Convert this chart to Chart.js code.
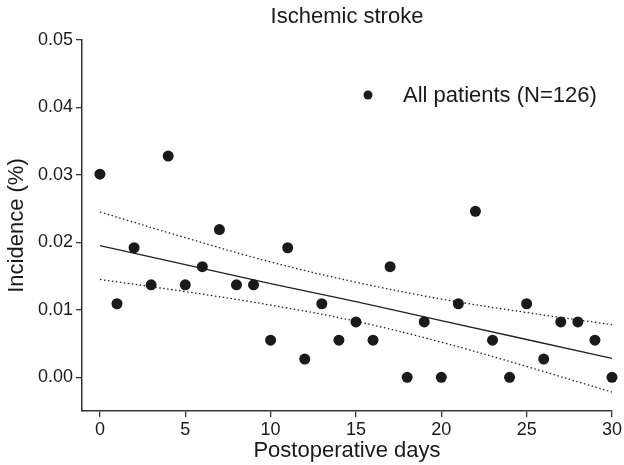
<!DOCTYPE html>
<html>
<head>
<meta charset="utf-8">
<script src="https://cdn.jsdelivr.net/npm/chart.js@4"></script>
<style>
  html, body { margin: 0; padding: 0; background: #fff; }
  #wrap { width: 624px; height: 465px; }
</style>
</head>
<body>
<div id="wrap"><canvas id="chart" width="624" height="465"></canvas></div>
<script>
// données
const days = [0,1,2,3,4,5,6,7,8,9,10,11,12,13,14,15,16,17,18,19,20,21,22,23,24,25,26,27,28,29,30];
const incidence = [0.0301,0.0109,0.0192,0.0137,0.0328,0.0137,0.0164,0.0219,0.0137,0.0137,
    0.0055,0.0192,0.0027,0.0109,0.0055,0.0082,0.0055,0.0164,0,0.0082,
    0,0.0109,0.0246,0.0055,0,0.0109,0.0027,0.0082,0.0082,0.0055,0];

const fitDays = [0, 5, 10, 15, 20, 25, 30];
const fitLine = [0.0195, 0.0167, 0.0139, 0.0112, 0.0084, 0.0056, 0.0028];
const upperBand = [0.0245, 0.0207, 0.0171, 0.0141, 0.0116, 0.0096, 0.0078];
const lowerBand = [0.0145, 0.0127, 0.0107, 0.0083, 0.0052, 0.0016, -0.0022];

const xTicks = [0, 5, 10, 15, 20, 25, 30];
const yTicks = [0, 0.01, 0.02, 0.03, 0.04, 0.05];

const legendLabel = 'All patients (N=126)';
const FONT = "'Liberation Sans', Arial, Helvetica, sans-serif";
const INK = '#1a1a1a';

const toXY = (xs, ys) => xs.map((x, i) => ({ x: x, y: ys[i] }));

// légende dessinée à la main (point + texte)
const legendPlugin = {
    id: 'pointLegend',
    afterDraw(chart) {
        const ctx = chart.ctx;
        const a = chart.chartArea;
        const px = a.left + 286, py = a.top + 55;
        ctx.save();
        ctx.fillStyle = INK;
        ctx.beginPath();
        ctx.arc(px, py, 4.5, 0, Math.PI * 2);
        ctx.fill();
        ctx.font = `22px ${FONT}`;
        ctx.textBaseline = 'middle';
        ctx.textAlign = 'left';
        ctx.fillText(legendLabel, px + 35, py + 1);
        ctx.restore();
    }
};

new Chart(document.getElementById('chart').getContext('2d'), {
    type: 'scatter',
    data: {
        datasets: [
            {
                label: legendLabel,
                data: toXY(days, incidence),
                backgroundColor: INK,
                borderColor: INK,
                borderWidth: 0,
                pointRadius: 5.5,
                pointHoverRadius: 5.5,
                clip: false,
                order: 0
            },
            {
                label: 'fit',
                type: 'line',
                data: toXY(fitDays, fitLine),
                borderColor: '#222',
                borderWidth: 1.3,
                pointRadius: 0,
                fill: false,
                order: 1
            },
            {
                label: 'upper',
                type: 'line',
                data: toXY(fitDays, upperBand),
                borderColor: '#222',
                borderWidth: 1.3,
                borderDash: [1.5, 2.5],
                pointRadius: 0,
                tension: 0.4,
                fill: false,
                order: 1
            },
            {
                label: 'lower',
                type: 'line',
                data: toXY(fitDays, lowerBand),
                borderColor: '#222',
                borderWidth: 1.3,
                borderDash: [1.5, 2.5],
                pointRadius: 0,
                tension: 0.4,
                fill: false,
                order: 1
            }
        ]
    },
    options: {
        responsive: false,
        animation: false,
        layout: { padding: { top: 0, right: 10, bottom: 0, left: 0 } },
        plugins: {
            legend: { display: false },
            tooltip: { enabled: false },
            title: {
                display: true,
                fullSize: false,
                text: 'Ischemic stroke',
                color: INK,
                font: { family: FONT, size: 22, weight: 'normal' },
                padding: { top: 4, bottom: 9.6 }
            }
        },
        scales: {
            x: {
                type: 'linear',
                min: -1.05,
                max: 30,
                afterBuildTicks: s => { s.ticks = xTicks.map(v => ({ value: v })); },
                afterFit: s => { s.height = 54; },
                ticks: {
                    color: INK,
                    padding: 2,
                    font: { family: FONT, size: 18 },
                    callback: v => String(v)
                },
                grid: { drawOnChartArea: false, drawTicks: true, tickLength: 6, color: '#333', lineWidth: 1.3 },
                border: { display: true, color: '#333', width: 1.5 },
                title: {
                    display: true,
                    text: 'Postoperative days',
                    color: INK,
                    font: { family: FONT, size: 22 },
                    padding: { top: 0, bottom: 1 }
                }
            },
            y: {
                type: 'linear',
                min: -0.005,
                max: 0.05,
                afterBuildTicks: s => { s.ticks = yTicks.map(v => ({ value: v })); },
                afterFit: s => { s.width = 82; },
                ticks: {
                    color: INK,
                    padding: 3,
                    font: { family: FONT, size: 18 },
                    callback: v => v.toFixed(2)
                },
                grid: { drawOnChartArea: false, drawTicks: true, tickLength: 6, color: '#333', lineWidth: 1.3 },
                border: { display: true, color: '#333', width: 1.5 },
                title: {
                    display: true,
                    text: 'Incidence (%)',
                    color: INK,
                    font: { family: FONT, size: 22 },
                    padding: { top: 4, bottom: 0 }
                }
            }
        }
    },
    plugins: [legendPlugin]
});
</script>
</body>
</html>
